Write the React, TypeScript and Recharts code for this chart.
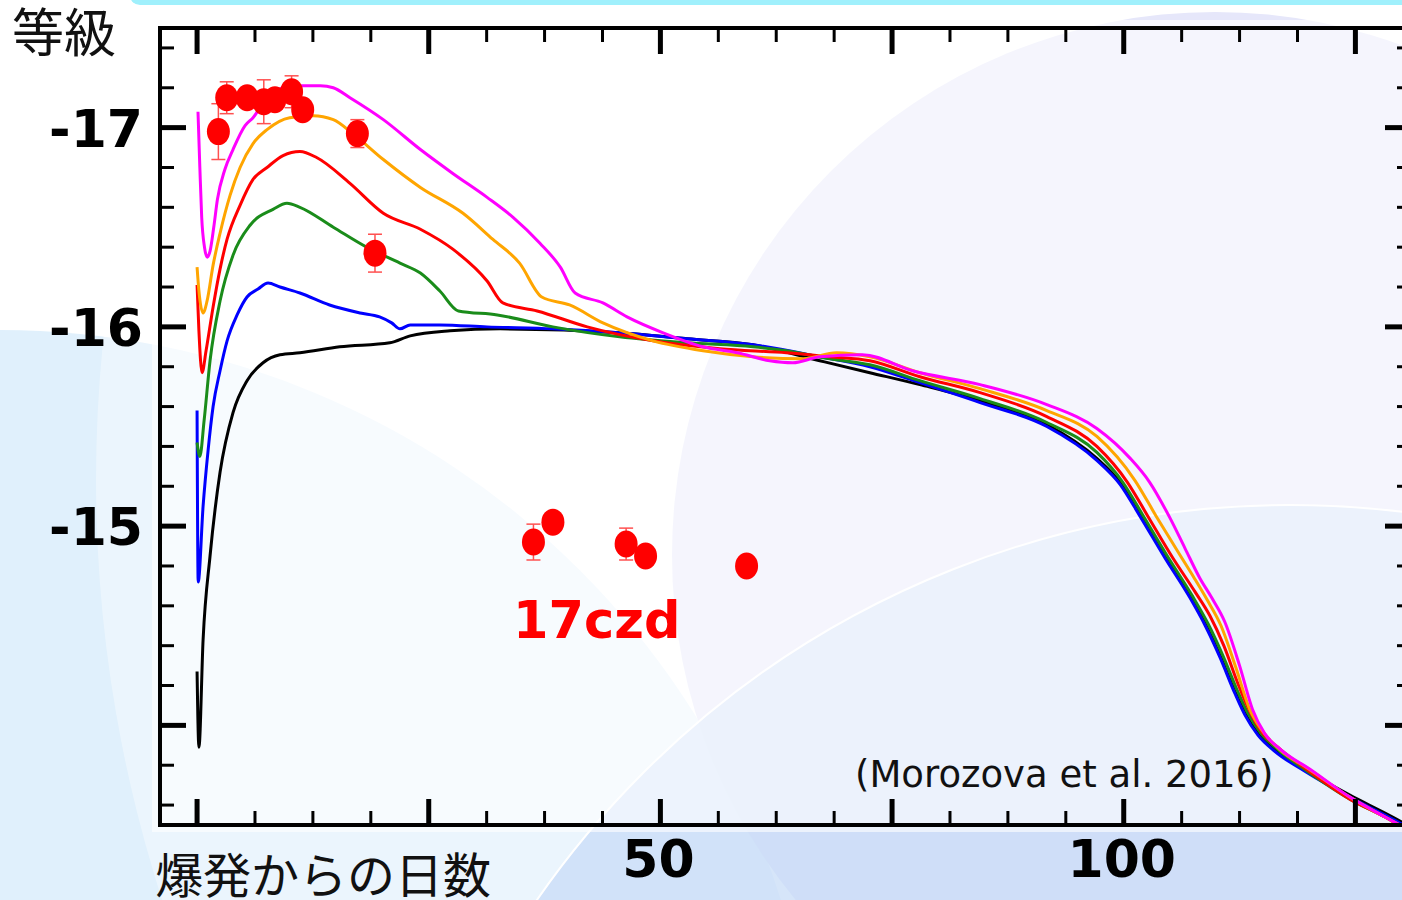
import React from 'react';
import {
  ComposedChart,
  Line,
  Scatter,
  XAxis,
  YAxis,
  ErrorBar,
  ReferenceDot,
  Label,
} from 'recharts';

// Model light curves (Morozova et al. 2016): [days since explosion, absolute magnitude]
const MODEL_BLACK = [
  [0, -14.27], [0.2, -13.89], [0.65, -14.43], [1.4, -14.85], [2.48, -15.27], [3.88, -15.57],
  [5.39, -15.73], [7.12, -15.82], [8.95, -15.86], [11.1, -15.87], [15.4, -15.9], [20.8, -15.92],
  [23.0, -15.955], [27.3, -15.98], [32.7, -15.99], [45.6, -15.97], [52.9, -15.94], [60.0, -15.91],
  [67.2, -15.83], [72.6, -15.77], [78.0, -15.71], [84.5, -15.63], [91.7, -15.51], [97.1, -15.34],
  [99.6, -15.22], [101.75, -15.06], [104.45, -14.85], [107.15, -14.65], [108.8, -14.51], [110.4, -14.35],
  [112.0, -14.17], [113.1, -14.06], [114.5, -13.96], [116.3, -13.88], [119.55, -13.78], [124.4, -13.65],
  [128.2, -13.56], [131, -13.49],
];

const MODEL_BLUE = [
  [0, -15.58], [0.12, -14.72], [0.65, -15.1], [1.19, -15.38], [1.73, -15.6], [2.48, -15.78],
  [3.24, -15.93], [4.32, -16.06], [5.39, -16.15], [6.58, -16.19], [7.66, -16.22], [8.95, -16.2],
  [11.1, -16.17], [14.3, -16.11], [17.6, -16.07], [19.7, -16.05], [21.0, -16.02], [21.9, -15.99],
  [23.0, -16.01], [26.2, -16.01], [31.3, -16.0], [38.4, -15.99], [45.6, -15.97], [52.9, -15.94],
  [60.0, -15.91], [67.2, -15.85], [72.6, -15.8], [78.0, -15.72], [84.5, -15.62], [91.7, -15.5],
  [97.1, -15.33], [99.6, -15.21], [101.75, -15.05], [104.45, -14.84], [107.15, -14.64], [108.8, -14.5],
  [110.4, -14.34], [112.0, -14.16], [113.1, -14.05], [114.5, -13.95], [116.3, -13.87], [119.55, -13.77],
  [124.4, -13.64], [128.2, -13.55], [131, -13.48],
];

const MODEL_GREEN = [
  [0, -15.42], [0.3, -15.35], [0.76, -15.53], [1.4, -15.83], [2.48, -16.13], [3.88, -16.36],
  [5.72, -16.51], [8.2, -16.59], [9.7, -16.62], [11.1, -16.6], [14.7, -16.5], [18.3, -16.4],
  [21.9, -16.32], [24.1, -16.27], [26.2, -16.18], [28.2, -16.08], [32.4, -16.06], [38.4, -16.0],
  [45.6, -15.95], [52.9, -15.92], [60.0, -15.9], [63.6, -15.88], [68.3, -15.84], [72.6, -15.81],
  [78.0, -15.73], [84.5, -15.64], [91.7, -15.52], [97.1, -15.37], [99.9, -15.22], [102.0, -15.06],
  [104.7, -14.85], [107.4, -14.65], [109.1, -14.51], [110.7, -14.35], [112.3, -14.17], [113.4, -14.06],
  [114.8, -13.96], [116.6, -13.88], [119.8, -13.77], [124.4, -13.63], [128.2, -13.54], [131, -13.47],
];

const MODEL_RED = [
  [0, -16.21], [0.2, -15.98], [0.54, -15.77], [0.97, -15.88], [1.73, -16.1], [2.48, -16.29],
  [3.24, -16.44], [4.64, -16.61], [6.04, -16.74], [7.55, -16.8], [9.28, -16.86], [11.1, -16.88],
  [12.9, -16.85], [16.5, -16.72], [20.1, -16.57], [24.1, -16.49], [27.6, -16.39], [31.3, -16.23],
  [33.0, -16.12], [36.7, -16.08], [42.1, -16.0], [49.2, -15.93], [56.4, -15.89], [63.6, -15.87],
  [68.3, -15.85], [72.6, -15.83], [78.0, -15.75], [84.5, -15.67], [91.7, -15.55], [97.1, -15.4],
  [100.4, -15.22], [102.6, -15.05], [105.3, -14.84], [107.7, -14.67], [109.3, -14.55], [110.8, -14.4],
  [112.4, -14.2], [113.6, -14.07], [115.0, -13.96], [116.9, -13.88], [120.0, -13.77], [124.4, -13.63],
  [128.2, -13.54], [131, -13.46],
];

const MODEL_ORANGE = [
  [0, -16.3], [0.2, -16.18], [0.65, -16.07], [1.08, -16.13], [1.73, -16.31], [2.48, -16.47],
  [3.56, -16.66], [4.64, -16.8], [6.04, -16.92], [7.55, -16.99], [10.0, -17.05], [12.5, -17.06],
  [14.7, -17.04], [16.8, -16.97], [20.1, -16.84], [24.1, -16.7], [28.7, -16.57], [31.9, -16.44],
  [34.8, -16.32], [37.2, -16.15], [40.2, -16.11], [43.8, -16.02], [49.2, -15.93], [54.6, -15.88],
  [60.0, -15.85], [65.4, -15.84], [69.0, -15.87], [72.6, -15.85], [78.0, -15.77], [84.5, -15.69],
  [91.7, -15.58], [97.1, -15.45], [101.2, -15.23], [103.5, -15.05], [106.0, -14.86], [107.6, -14.74],
  [109.0, -14.63], [110.5, -14.5], [112.1, -14.29], [113.6, -14.08], [115.0, -13.97], [116.8, -13.88],
  [120.0, -13.78], [124.4, -13.64], [128.2, -13.54], [131, -13.47],
];

const MODEL_MAGENTA = [
  [0.1, -17.08], [0.3, -16.8], [0.5, -16.55], [0.8, -16.4], [1.1, -16.35], [1.4, -16.38],
  [1.8, -16.5], [2.2, -16.64], [3.0, -16.79], [3.88, -16.89], [5.18, -17.01], [6.04, -17.05],
  [7.55, -17.15], [9.28, -17.2], [11.1, -17.21], [13.3, -17.21], [14.7, -17.2], [16.5, -17.15],
  [20.1, -17.04], [24.1, -16.89], [27.6, -16.77], [31.3, -16.65], [34.1, -16.55], [37.0, -16.42],
  [39.2, -16.3], [40.8, -16.17], [43.8, -16.12], [46.4, -16.05], [50.3, -15.97], [54.6, -15.9],
  [58.3, -15.87], [61.8, -15.83], [64.3, -15.82], [67.2, -15.85], [71.8, -15.86], [77.2, -15.78],
  [84.5, -15.71], [91.7, -15.61], [97.1, -15.49], [100.7, -15.34], [102.8, -15.22], [105.0, -15.04],
  [106.6, -14.89], [108.2, -14.74], [109.5, -14.64], [110.9, -14.52], [112.5, -14.3], [113.9, -14.08],
  [115.2, -13.96], [116.9, -13.88], [120.1, -13.78], [124.4, -13.64], [128.2, -13.54], [131, -13.47],
];

// SN 2017czd photometry
const OBS_DAYS = [2.3, 3.2, 5.4, 7.2, 8.4, 10.2, 11.4, 17.3, 19.2, 36.3, 38.4, 46.3, 48.4, 59.3];
const OBS_MAGS = [-16.98, -17.15, -17.15, -17.13, -17.14, -17.18, -17.09, -16.97, -16.37, -14.92, -15.02, -14.91, -14.85, -14.8];
const OBS_ERRS = [0.14, 0.08, 0, 0.11, 0, 0.08, 0, 0.07, 0.095, 0.09, 0, 0.08, 0, 0];

const X_TICKS = [
  0, 6.25, 12.5, 18.75, 25, 31.25, 37.5, 43.75, 50, 56.25, 62.5,
  68.75, 75, 81.25, 87.5, 93.75, 100, 106.25, 112.5, 118.75, 125,
];
const Y_TICKS = [
  -17.4, -17.2, -17, -16.8, -16.6, -16.4, -16.2, -16, -15.8, -15.6,
  -15.4, -15.2, -15, -14.8, -14.6, -14.4, -14.2, -14, -13.8, -13.6,
];
const X_LABELS = [50, 100];
const Y_LABELS = [-17, -16, -15];

const X_DOMAIN = [-4, 131];
const Y_DOMAIN = [-17.5, -13.5];

const toPoints = (rows: number[][]) => rows.map(([day, mag]) => ({ day, mag }));

const MODELS = [
  { key: 'black', color: '#000000', rows: MODEL_BLACK },
  { key: 'blue', color: '#0000ff', rows: MODEL_BLUE },
  { key: 'green', color: '#1a8c1a', rows: MODEL_GREEN },
  { key: 'red', color: '#ff0000', rows: MODEL_RED },
  { key: 'orange', color: '#ffa500', rows: MODEL_ORANGE },
  { key: 'magenta', color: '#ff00ff', rows: MODEL_MAGENTA },
];

const observations = OBS_DAYS.map((day, i) => ({ day, mag: OBS_MAGS[i], err: OBS_ERRS[i] }));

const NUM_FONT: React.CSSProperties = {
  fontFamily: '"DejaVu Sans", Verdana, sans-serif',
  fontWeight: 'bold',
  fontSize: 52,
  fill: '#000',
};
const JP_FONT: React.CSSProperties = {
  fontFamily: '"Noto Sans CJK JP", sans-serif',
  fontWeight: 400,
  fill: '#111',
};
const FRAME = { stroke: '#000', strokeWidth: 4, strokeLinecap: 'square' as const };

// inward tick marks on all four sides, numbers only on bottom/left
function FrameTick(props: any) {
  const { x, y, payload, side } = props;
  const v = payload.value as number;
  const horizontal = side === 'top' || side === 'bottom';
  const major = horizontal
    ? Math.abs(v % 25) < 1e-6
    : Math.abs(v - Math.round(v)) < 1e-6;
  const len = major ? 26 : 14;
  let x2 = x;
  let y2 = y;
  if (side === 'top') y2 = y + len;
  if (side === 'bottom') y2 = y - len;
  if (side === 'left') x2 = x + len;
  if (side === 'right') x2 = x - len;
  return (
    <g>
      <line x1={x} y1={y} x2={x2} y2={y2} stroke="#000" strokeWidth={major ? 5 : 3} />
      {side === 'bottom' && X_LABELS.includes(v) && (
        <text x={x - 2} y={y + 52} textAnchor="middle" style={NUM_FONT}>{v}</text>
      )}
      {side === 'left' && Y_LABELS.includes(v) && (
        <text x={x - 17} y={y + 19} textAnchor="end" style={NUM_FONT}>{v}</text>
      )}
    </g>
  );
}

const ObsMarker = (p: any) => (
  <ellipse cx={p.cx} cy={p.cy} rx={11.5} ry={13.5} fill="#ff0000" />
);

const note = (text: string, style: React.CSSProperties) => (props: any) => {
  const { viewBox } = props;
  return (
    <text x={viewBox.x} y={viewBox.y} style={style}>
      {text}
    </text>
  );
};

// soft slide decoration behind the plot
function Backdrop() {
  return (
    <svg width={1402} height={900} style={{ position: 'absolute', left: 0, top: 0 }}>
      <rect width={1402} height={900} fill="#ffffff" />
      <circle cx={0} cy={1150} r={820} fill="#e0f0fc" />
      <circle cx={1462} cy={480} r={1366} fill="#ffffff" fillOpacity={0.35} />
      <circle cx={1215} cy={555} r={543} fill="#e6e7fa" />
      <circle cx={1290} cy={1420} r={915} fill="#c6dbf7" fillOpacity={0.72} stroke="#ffffff" strokeWidth={2} />
      <rect x={130} y={-14} width={1300} height={19} rx={10} fill="#a0f0fc" />
      <rect x={152} y={20} width={1260} height={812} fill="#ffffff" fillOpacity={0.6} />
    </svg>
  );
}

export default function App() {
  return (
    <div
      style={{
        position: 'absolute',
        left: 0,
        top: 0,
        width: 1402,
        height: 900,
        overflow: 'hidden',
        background: '#fff',
      }}
    >
      <Backdrop />
      <div style={{ position: 'absolute', left: 0, top: 0 }}>
        {/* axes are 1px thick so the plot box lands on 160..1411 x 28..825 */}
        <ComposedChart width={1420} height={900} margin={{ top: 27, right: 8, bottom: 74, left: 159 }}>
          <XAxis
            type="number"
            dataKey="day"
            domain={X_DOMAIN}
            ticks={X_TICKS}
            interval={0}
            allowDataOverflow
            height={1}
            tickSize={0}
            tickMargin={0}
            tickLine={false}
            axisLine={FRAME}
            tick={<FrameTick side="bottom" />}
          >
            <Label
              content={(p: any) => (
                <text x={p.viewBox.x - 5} y={p.viewBox.y + 68} style={{ ...JP_FONT, fontSize: 48 }}>
                  爆発からの日数
                </text>
              )}
            />
          </XAxis>
          <XAxis
            xAxisId="top"
            orientation="top"
            type="number"
            dataKey="day"
            domain={X_DOMAIN}
            ticks={X_TICKS}
            interval={0}
            allowDataOverflow
            height={1}
            tickSize={0}
            tickMargin={0}
            tickLine={false}
            axisLine={FRAME}
            tick={<FrameTick side="top" />}
          />
          <YAxis
            type="number"
            domain={Y_DOMAIN}
            ticks={Y_TICKS}
            interval={0}
            reversed
            allowDataOverflow
            width={1}
            tickSize={0}
            tickMargin={0}
            tickLine={false}
            axisLine={FRAME}
            tick={<FrameTick side="left" />}
          >
            <Label
              content={(p: any) => (
                <text x={p.viewBox.x - 147} y={p.viewBox.y + 24} style={{ ...JP_FONT, fontSize: 52 }}>
                  等級
                </text>
              )}
            />
          </YAxis>
          <YAxis
            yAxisId="right"
            orientation="right"
            type="number"
            domain={Y_DOMAIN}
            ticks={Y_TICKS}
            interval={0}
            reversed
            allowDataOverflow
            width={1}
            tickSize={0}
            tickMargin={0}
            tickLine={false}
            axisLine={FRAME}
            tick={<FrameTick side="right" />}
          />

          {MODELS.map((m) => (
            <Line
              key={m.key}
              data={toPoints(m.rows)}
              dataKey="mag"
              type="monotone"
              stroke={m.color}
              strokeWidth={3}
              dot={false}
              activeDot={false}
              isAnimationActive={false}
            />
          ))}

          <Scatter data={observations} dataKey="mag" shape={ObsMarker} isAnimationActive={false}>
            <ErrorBar dataKey="err" direction="y" width={7} stroke="#ff5050" strokeWidth={1.5} />
          </Scatter>

          <ReferenceDot
            x={34.1}
            y={-14.44}
            r={0}
            fill="none"
            stroke="none"
            label={note('17czd', { ...NUM_FONT, fontSize: 51, fill: '#ff0000' })}
          />
          <ReferenceDot
            x={71.0}
            y={-13.69}
            r={0}
            fill="none"
            stroke="none"
            label={note('(Morozova et al. 2016)', {
              fontFamily: '"DejaVu Sans", Verdana, sans-serif',
              fontSize: 37,
              fill: '#111',
            })}
          />
        </ComposedChart>
      </div>
    </div>
  );
}
